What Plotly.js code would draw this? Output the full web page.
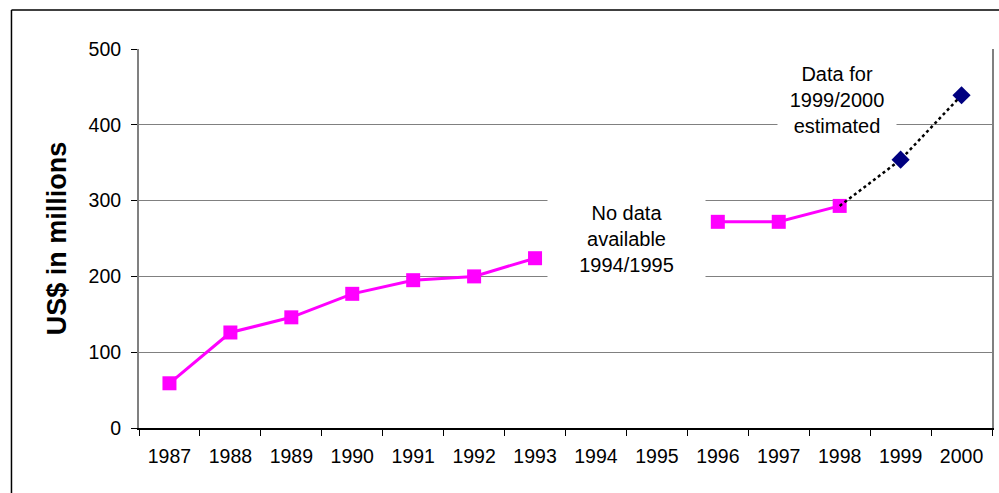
<!DOCTYPE html>
<html>
<head>
<meta charset="utf-8">
<script src="https://cdn.plot.ly/plotly-3.0.1.min.js"></script>
<style>
html,body{margin:0;padding:0;background:#fff;}
#chart{width:999px;height:493px;}
</style>
</head>
<body>
<div id="chart"></div>
<script>
// Data
const years = ["1987","1988","1989","1990","1991","1992","1993","1994","1995","1996","1997","1998","1999","2000"];
const actualValues = [59, 126, 146, 177, 195, 200, 224, null, null, 272, 272, 293, null, null];
const estYears = ["1998","1999","2000"];
const estValues = [293, 354, 439];
const yTicks = [0, 100, 200, 300, 400, 500];

const FONT = "Arial, 'Liberation Sans', sans-serif";

const traces = [
  {
    x: years, y: actualValues, type: "scatter", mode: "lines+markers",
    connectgaps: false,
    line: {color: "#FF00FF", width: 3},
    marker: {symbol: "square", size: 14, color: "#FF00FF"},
    hoverinfo: "x+y"
  },
  {
    x: estYears, y: estValues, type: "scatter", mode: "lines",
    line: {color: "#000000", width: 2.5, dash: "dot"},
    hoverinfo: "skip"
  },
  {
    x: estYears.slice(1), y: estValues.slice(1), type: "scatter", mode: "markers",
    marker: {symbol: "diamond", size: 14, color: "#000080"},
    hoverinfo: "x+y"
  }
];

const layout = {
  width: 999, height: 493,
  margin: {l: 139, r: 7, t: 49, b: 65},
  paper_bgcolor: "#ffffff", plot_bgcolor: "#ffffff",
  showlegend: false,
  font: {family: FONT, color: "#000000", size: 20},
  xaxis: {
    type: "category",
    categoryorder: "array", categoryarray: years,
    range: [-0.5, 13.5],
    tickson: "boundaries",
    ticks: "outside", ticklen: 6, tickcolor: "#000000", tickwidth: 1,
    showline: true, linecolor: "#000000", linewidth: 1.5,
    showgrid: false, zeroline: false,
    tickfont: {family: FONT, size: 19.5, color: "#000"},
    ticklabelstandoff: 10,
    fixedrange: true
  },
  yaxis: {
    range: [0, 500],
    tickvals: yTicks, ticktext: yTicks.map(String),
    ticks: "outside", ticklen: 6, tickcolor: "#000000",
    showline: true, linecolor: "#808080", linewidth: 2, mirror: true,
    showgrid: true, gridcolor: "#808080", gridwidth: 1,
    zeroline: false,
    tickfont: {family: FONT, size: 19.5, color: "#000"},
    ticklabelstandoff: 6,
    title: {text: "US$ in millions", font: {family: FONT, size: 27, color: "#000", weight: "bold"}, standoff: 14},
    fixedrange: true
  },
  annotations: [
    {
      x: 7.5, y: 249, xref: "x", yref: "y",
      text: "No data<br>available<br>1994/1995",
      showarrow: false, bgcolor: "#ffffff",
      width: 155, height: 88, align: "center",
      font: {family: FONT, size: 20, color: "#000"}
    },
    {
      x: 10.95, y: 433, xref: "x", yref: "y",
      text: "Data for<br>1999/2000<br>estimated",
      showarrow: false, bgcolor: "#ffffff",
      width: 116, height: 84, align: "center",
      font: {family: FONT, size: 20, color: "#000"}
    }
  ],
  shapes: [
    {type: "line", xref: "paper", yref: "paper", x0: -0.1495, x1: -0.1495, y0: -0.2, y1: 1.103,
     line: {color: "#000", width: 1.5}},
    {type: "line", xref: "paper", yref: "paper", x0: -0.1495, x1: 1.01, y0: 1.103, y1: 1.103,
     line: {color: "#000", width: 1.5}}
  ]
};

Plotly.newPlot("chart", traces, layout, {displayModeBar: false, staticPlot: true});
</script>
</body>
</html>
